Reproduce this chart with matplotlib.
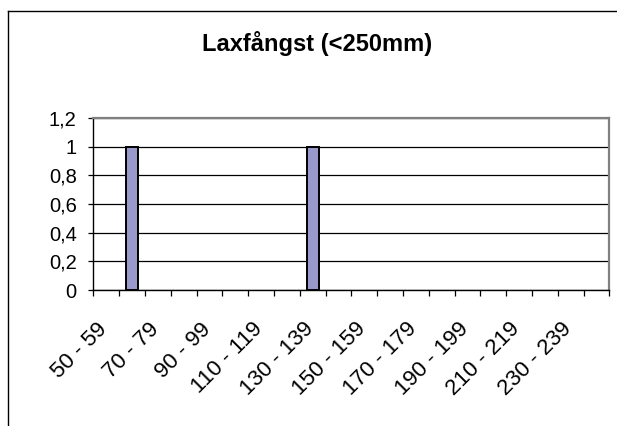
import numpy as np
import matplotlib
matplotlib.use("Agg")
import matplotlib.pyplot as plt
from matplotlib.lines import Line2D
from matplotlib.ticker import FixedLocator, FixedFormatter, FuncFormatter
import matplotlib.transforms as mtransforms

# Length classes (mm) and number of salmon caught
CLASSES = ["%d - %d" % (lo, lo + 9) for lo in range(50, 250, 10)]
COUNTS = [0, 1, 0, 0, 0, 0, 0, 0, 1, 0, 0, 0, 0, 0, 0, 0, 0, 0, 0, 0]
Y_TICKS = [0, 0.2, 0.4, 0.6, 0.8, 1.0, 1.2]
TITLE = "Laxfångst (<250mm)"

plt.rcParams["font.family"] = ["Liberation Sans", "DejaVu Sans"]
plt.rcParams["font.size"] = 14

fig = plt.figure(figsize=(6.17, 4.26), dpi=100)
ax = fig.add_axes([93.3 / 617, 136 / 426, 516 / 617, 172 / 426])

x = np.arange(len(CLASSES))
edges = ["black" if c else "none" for c in COUNTS]
ax.bar(x, COUNTS, width=0.46, color="#9999cc", edgecolor=edges,
       linewidth=1.4, zorder=3)

ax.set_xlim(-0.5, len(CLASSES) - 0.5)
ax.set_ylim(0, 1.2)

# gridlines
ax.set_yticks(Y_TICKS)
ax.yaxis.set_major_formatter(FuncFormatter(lambda v, p: ("%g" % v).replace(".", ",")))
ax.grid(axis="y", color="black", linewidth=0.9, zorder=1)
ax.tick_params(axis="y", direction="out", length=3.6, width=0.9, pad=8.4,
               labelsize=14.5, colors="black")

# category boundaries as ticks
ax.xaxis.set_major_locator(FixedLocator(np.arange(-0.5, len(CLASSES), 1.0)))
ax.xaxis.set_major_formatter(FixedFormatter([""] * (len(CLASSES) + 1)))
ax.tick_params(axis="x", which="major", direction="out", length=4.3, width=0.9)

# labels on every other class, rotated like Excel does
shift = mtransforms.ScaledTranslation(-2 / 100, -36 / 100, fig.dpi_scale_trans)
for i in x[::2]:
    ax.text(i, 0, CLASSES[i], transform=ax.transData + shift, fontsize=16,
            rotation=45, rotation_mode="anchor", ha="right", va="center")

for side in ["left", "bottom"]:
    ax.spines[side].set_color("black")
    ax.spines[side].set_linewidth(1.0)
for side in ["top", "right"]:
    ax.spines[side].set_color("#808080")
    ax.spines[side].set_linewidth(1.6)

fig.text(317 / 617, 1 - 43 / 426, TITLE, ha="center", va="center",
         fontsize=17, fontweight="bold")

# chart area frame (only left and top edges fall inside the picture)
fl = 7.5 / 617
ft = 1 - 10.5 / 426
fig.add_artist(Line2D([fl, fl], [0, ft], color="black", linewidth=1.0))
fig.add_artist(Line2D([fl, 1], [ft, ft], color="black", linewidth=1.0))

fig.savefig("out.png", dpi=100)
